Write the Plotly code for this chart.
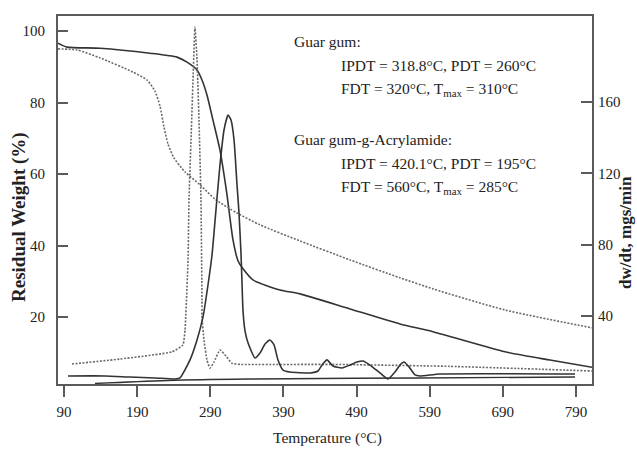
import plotly.graph_objects as go

# ---------------- data ----------------
# Guar gum TGA (solid, left axis)
gg_tga_temp = [81.8, 94.1, 139.2, 207.6, 244.5, 258.2, 271.9, 278.7, 285.5, 293.7, 303.3, 312.9,
               321.1, 328.0, 334.8, 348.4, 385.4, 412.7, 481.1, 549.4, 594.6, 693.0, 754.5, 812.0]
gg_tga_wt = [96.6, 95.5, 95.2, 93.8, 92.7, 91.3, 89.1, 86.3, 82.1, 75.1, 66.7, 54.2,
             41.6, 35.7, 33.5, 30.4, 27.6, 26.5, 22.3, 18.1, 15.9, 10.3, 8.0, 6.0]

# Guar gum-g-Acrylamide TGA (dashed, left axis)
gga_tga_temp = [81.8, 107.8, 139.2, 184.4, 203.5, 214.4, 221.3, 226.7, 232.2, 240.4, 255.5, 276.0,
                296.5, 326.6, 358.0, 412.7, 481.1, 549.4, 594.6, 693.0, 812.0]
gga_tga_wt = [95.0, 94.7, 92.5, 88.5, 86.3, 83.2, 79.0, 73.2, 68.4, 64.5, 60.6, 57.0,
              53.0, 49.1, 45.8, 41.3, 36.0, 31.0, 27.9, 22.0, 17.0]

# Guar gum-g-Acrylamide DTG (dotted, right axis)
gga_dtg_temp = [100.9, 166.6, 237.7, 252.7, 255.5, 259.6, 260.9, 263.7, 266.4, 269.1, 271.9, 274.6,
                277.3, 278.7, 278.7, 281.4, 285.5, 289.6, 295.1, 303.3, 311.5, 319.7, 330.7,
                453.0, 617.0, 812.0]
gga_dtg_rate = [13.1, 15.9, 19.9, 23.8, 32.2, 71.4, 105.0, 138.7, 172.3, 202.0, 183.5, 149.9,
                105.0, 48.9, 40.0, 26.5, 15.3, 10.8, 14.2, 21.0, 17.6, 13.5, 12.9,
                12.9, 11.8, 9.2]

# Guar gum DTG (solid, right axis)
gg_dtg_temp = [95.5, 146.1, 180.3, 214.4, 241.8, 248.6, 262.3, 271.9, 280.1, 286.9, 292.4, 297.8,
               303.3, 308.8, 314.3, 318.4, 322.5, 326.6, 329.3, 332.0, 333.4, 334.8, 337.5, 341.6,
               351.2, 358.0, 364.9, 371.7, 377.2, 382.6, 389.5, 399.0, 426.4, 437.3, 442.8, 449.6,
               457.8, 470.1, 481.1, 490.6, 498.8, 508.4, 522.1, 533.0, 542.6, 549.4, 554.9, 561.8,
               570.0, 576.8, 604.2, 788.8]
gg_dtg_rate = [6.4, 6.4, 5.8, 5.3, 4.7, 5.3, 15.4, 26.6, 39.5, 57.4, 74.2, 99.4,
               124.7, 144.3, 152.7, 149.9, 138.7, 113.5, 97.8, 75.4, 58.6, 42.9, 31.7, 25.0,
               16.5, 19.3, 24.3, 26.6, 23.8, 15.4, 9.7, 8.6, 8.1, 9.2, 12.5, 15.4,
               12.0, 10.9, 12.5, 14.2, 14.8, 12.5, 8.1, 4.7, 8.6, 12.5, 14.2, 11.5,
               7.0, 6.4, 7.5, 7.5]

# baseline trace near the bottom (solid, right axis)
base_temp = [132.4, 232.2, 344.3, 576.8, 788.8]
base_rate = [2.2, 3.9, 4.7, 5.3, 5.8]

x_ticks = [90, 190, 290, 390, 490, 590, 690, 790]
left_ticks = [20, 40, 60, 80, 100]
right_ticks = [40, 80, 120, 160]

notes = [
    ("Guar gum:", 292, 41),
    ("IPDT = 318.8°C, PDT = 260°C", 339, 65),
    ("FDT = 320°C, T<sub>max</sub> = 310°C", 339, 89),
    ("Guar gum-g-Acrylamide:", 292, 139),
    ("IPDT = 420.1°C, PDT = 195°C", 339, 163),
    ("FDT = 560°C, T<sub>max</sub> = 285°C", 339, 187),
]

# ---------------- figure ----------------
W, H = 637, 449
L, R, T, B = 58, 592, 16, 384
FONT = "Liberation Serif, Times New Roman, serif"
AXC = "#5a5a5a"
TXT = "#222222"


def px(x):
    return (x - L) / (R - L)


def py(y):
    return (B - y) / (B - T)


fig = go.Figure()
fig.add_trace(go.Scatter(x=gg_tga_temp, y=gg_tga_wt, mode="lines", line=dict(color="#333333", width=1.6, shape="spline", smoothing=0.6)))
fig.add_trace(go.Scatter(x=gga_tga_temp, y=gga_tga_wt, mode="lines", line=dict(color="#6a6a6a", width=1.6, dash="2px,1.5px", shape="spline", smoothing=0.6)))
fig.add_trace(go.Scatter(x=gga_dtg_temp, y=gga_dtg_rate, yaxis="y2", mode="lines", line=dict(color="#6a6a6a", width=1.6, dash="2px,1.5px", shape="spline", smoothing=0.4)))
fig.add_trace(go.Scatter(x=gg_dtg_temp, y=gg_dtg_rate, yaxis="y2", mode="lines", line=dict(color="#333333", width=1.6, shape="spline", smoothing=0.5)))
fig.add_trace(go.Scatter(x=base_temp, y=base_rate, yaxis="y2", mode="lines", line=dict(color="#333333", width=1.4, shape="spline")))

annotations = []
for text, x, y in notes:
    annotations.append(dict(text=text, x=px(x), y=py(y), xref="paper", yref="paper",
                            xanchor="left", yanchor="middle", showarrow=False,
                            font=dict(family=FONT, size=15.5, color=TXT)))
annotations.append(dict(text="<b>Residual Weight (%)</b>", x=px(19), y=py(217), xref="paper", yref="paper",
                        xanchor="center", yanchor="middle", showarrow=False, textangle=-90,
                        font=dict(family=FONT, size=19, color=TXT)))
annotations.append(dict(text="<b>dw/dt, mgs/min</b>", x=px(625), y=py(233), xref="paper", yref="paper",
                        xanchor="center", yanchor="middle", showarrow=False, textangle=-90,
                        font=dict(family=FONT, size=17, color=TXT)))
annotations.append(dict(text="Temperature (°C)", x=px(327), y=py(438), xref="paper", yref="paper",
                        xanchor="center", yanchor="middle", showarrow=False,
                        font=dict(family=FONT, size=15.5, color=TXT)))

fig.update_layout(
    width=W, height=H,
    margin=dict(l=L, r=W - R, t=T, b=H - B),
    paper_bgcolor="white", plot_bgcolor="white",
    showlegend=False,
    font=dict(family=FONT, size=15, color=TXT),
    annotations=annotations,
    xaxis=dict(range=[81.8, 812], tickvals=x_ticks, ticks="outside", ticklen=11, tickwidth=1.6,
               tickcolor=AXC, showline=True, linecolor=AXC, linewidth=2, mirror=True,
               showgrid=False, zeroline=False, ticklabelstandoff=2,
               tickfont=dict(family=FONT, size=15, color=TXT)),
    yaxis=dict(range=[1.3, 104.2], tickvals=left_ticks, ticks="inside", ticklen=10, tickwidth=1.6,
               tickcolor=AXC, showline=True, linecolor=AXC, linewidth=2,
               showgrid=False, zeroline=False, ticklabelstandoff=8,
               tickfont=dict(family=FONT, size=15, color=TXT)),
    yaxis2=dict(range=[1.9, 208.2], tickvals=right_ticks, ticks="inside", ticklen=11, tickwidth=1.6,
                tickcolor=AXC, showline=True, linecolor=AXC, linewidth=2, overlaying="y", side="right",
                showgrid=False, zeroline=False, ticklabelstandoff=1,
                tickfont=dict(family=FONT, size=15, color=TXT)),
)

fig.write_html("out.html")
